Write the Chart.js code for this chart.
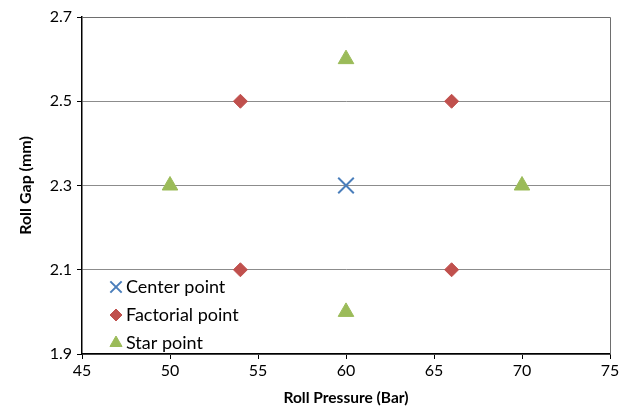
<!DOCTYPE html>
<html>
<head>
<meta charset="utf-8">
<script src="https://cdn.jsdelivr.net/npm/chart.js@4.4.1/dist/chart.umd.min.js"></script>
<style>
  html, body { margin: 0; padding: 0; background: #fff; }
  #wrap { width: 626px; height: 407px; }
</style>
</head>
<body>
<div id="wrap"><canvas id="chart" width="626" height="407"></canvas></div>
<script>
// Design points (Roll Pressure, Roll Gap)
const centerX = [60];
const centerY = [2.3];
const factorialX = [54, 66, 54, 66];
const factorialY = [2.5, 2.5, 2.1, 2.1];
const starX = [50, 70, 60, 60];
const starY = [2.3, 2.3, 2.6, 2.0];

const xTicks = [45, 50, 55, 60, 65, 70, 75];
const yTicks = [1.9, 2.1, 2.3, 2.5, 2.7];

const FONT = "Lato, 'Liberation Sans', sans-serif";

function pts(xs, ys) {
  return xs.map((x, i) => ({ x: x, y: ys[i] }));
}

// legend marker sizes (smaller than the plotted ones)
const legendRadius = { crossRot: 8, rectRot: 6, triangle: 7 };

// Frame around the plot area + legend inside it
const framePlugin = {
  id: 'frame',
  beforeDatasetsDraw: function(chart) {
    const a = chart.chartArea;
    const ctx = chart.ctx;
    ctx.save();
    ctx.strokeStyle = '#6e6e6e';
    ctx.lineWidth = 1;
    ctx.beginPath();
    ctx.moveTo(a.left, a.top + 0.5);
    ctx.lineTo(a.right + 0.5, a.top + 0.5);
    ctx.lineTo(a.right + 0.5, a.bottom);
    ctx.stroke();
    ctx.restore();
  },
  afterDraw: function(chart) {
    const ctx = chart.ctx;
    ctx.save();
    ctx.font = "18px " + FONT;
    ctx.textBaseline = 'middle';
    chart.data.datasets.forEach((ds, i) => {
      const y = 287 + i * 28;
      const opts = {
        pointStyle: ds.pointStyle,
        radius: legendRadius[ds.pointStyle],
        rotation: 0,
        borderWidth: ds.borderWidth
      };
      ctx.fillStyle = ds.backgroundColor;
      ctx.strokeStyle = ds.borderColor;
      ctx.lineWidth = ds.borderWidth;
      Chart.helpers.drawPoint(ctx, opts, 116, y);
      ctx.fillStyle = '#000';
      ctx.fillText(ds.label, 126, y);
    });
    ctx.restore();
  }
};

const chart = new Chart(document.getElementById('chart'), {
  type: 'scatter',
  data: {
    datasets: [
      {
        label: 'Center point',
        data: pts(centerX, centerY),
        pointStyle: 'crossRot',
        pointRadius: 11,
        borderColor: '#4a7ebb',
        backgroundColor: '#4a7ebb',
        borderWidth: 2
      },
      {
        label: 'Factorial point',
        data: pts(factorialX, factorialY),
        pointStyle: 'rectRot',
        pointRadius: 7,
        borderColor: '#c0504d',
        backgroundColor: '#c0504d',
        borderWidth: 1
      },
      {
        label: 'Star point',
        data: pts(starX, starY),
        pointStyle: 'triangle',
        pointRadius: 9,
        borderColor: '#9bbb59',
        backgroundColor: '#9bbb59',
        borderWidth: 1
      }
    ]
  },
  options: {
    responsive: false,
    animation: false,
    layout: { padding: { left: 0, top: 17, right: 16, bottom: 0 } },
    plugins: {
      legend: { display: false },
      tooltip: { enabled: false }
    },
    scales: {
      x: {
        type: 'linear',
        min: 45,
        max: 75,
        afterBuildTicks: function(scale) {
          scale.ticks = xTicks.map(v => ({ value: v }));
        },
        afterFit: function(scale) { scale.height = 53; },
        grid: {
          drawOnChartArea: false,
          drawTicks: true,
          tickLength: 5,
          tickColor: '#000'
        },
        border: { color: '#000', width: 1.5 },
        ticks: {
          color: '#000',
          font: { family: FONT, size: 16 },
          padding: 2
        },
        title: {
          display: true,
          text: 'Roll Pressure (Bar)',
          color: '#000',
          font: { family: FONT, size: 15.5, weight: 'bold' },
          padding: { top: 4, bottom: 0 }
        }
      },
      y: {
        type: 'linear',
        min: 1.9,
        max: 2.7,
        afterBuildTicks: function(scale) {
          scale.ticks = yTicks.map(v => ({ value: v }));
        },
        afterFit: function(scale) { scale.width = 82; },
        grid: {
          color: '#8c8c8c',
          drawTicks: true,
          tickLength: 5,
          tickColor: '#000'
        },
        border: { color: '#000', width: 1.5 },
        ticks: {
          color: '#000',
          font: { family: FONT, size: 16 },
          padding: 5,
          callback: function(v) { return v.toFixed(1); }
        },
        title: {
          display: true,
          text: 'Roll Gap (mm)',
          color: '#000',
          font: { family: FONT, size: 16, weight: 'bold' },
          padding: { top: 16, bottom: 6 }
        }
      }
    }
  },
  plugins: [framePlugin]
});
</script>
</body>
</html>
